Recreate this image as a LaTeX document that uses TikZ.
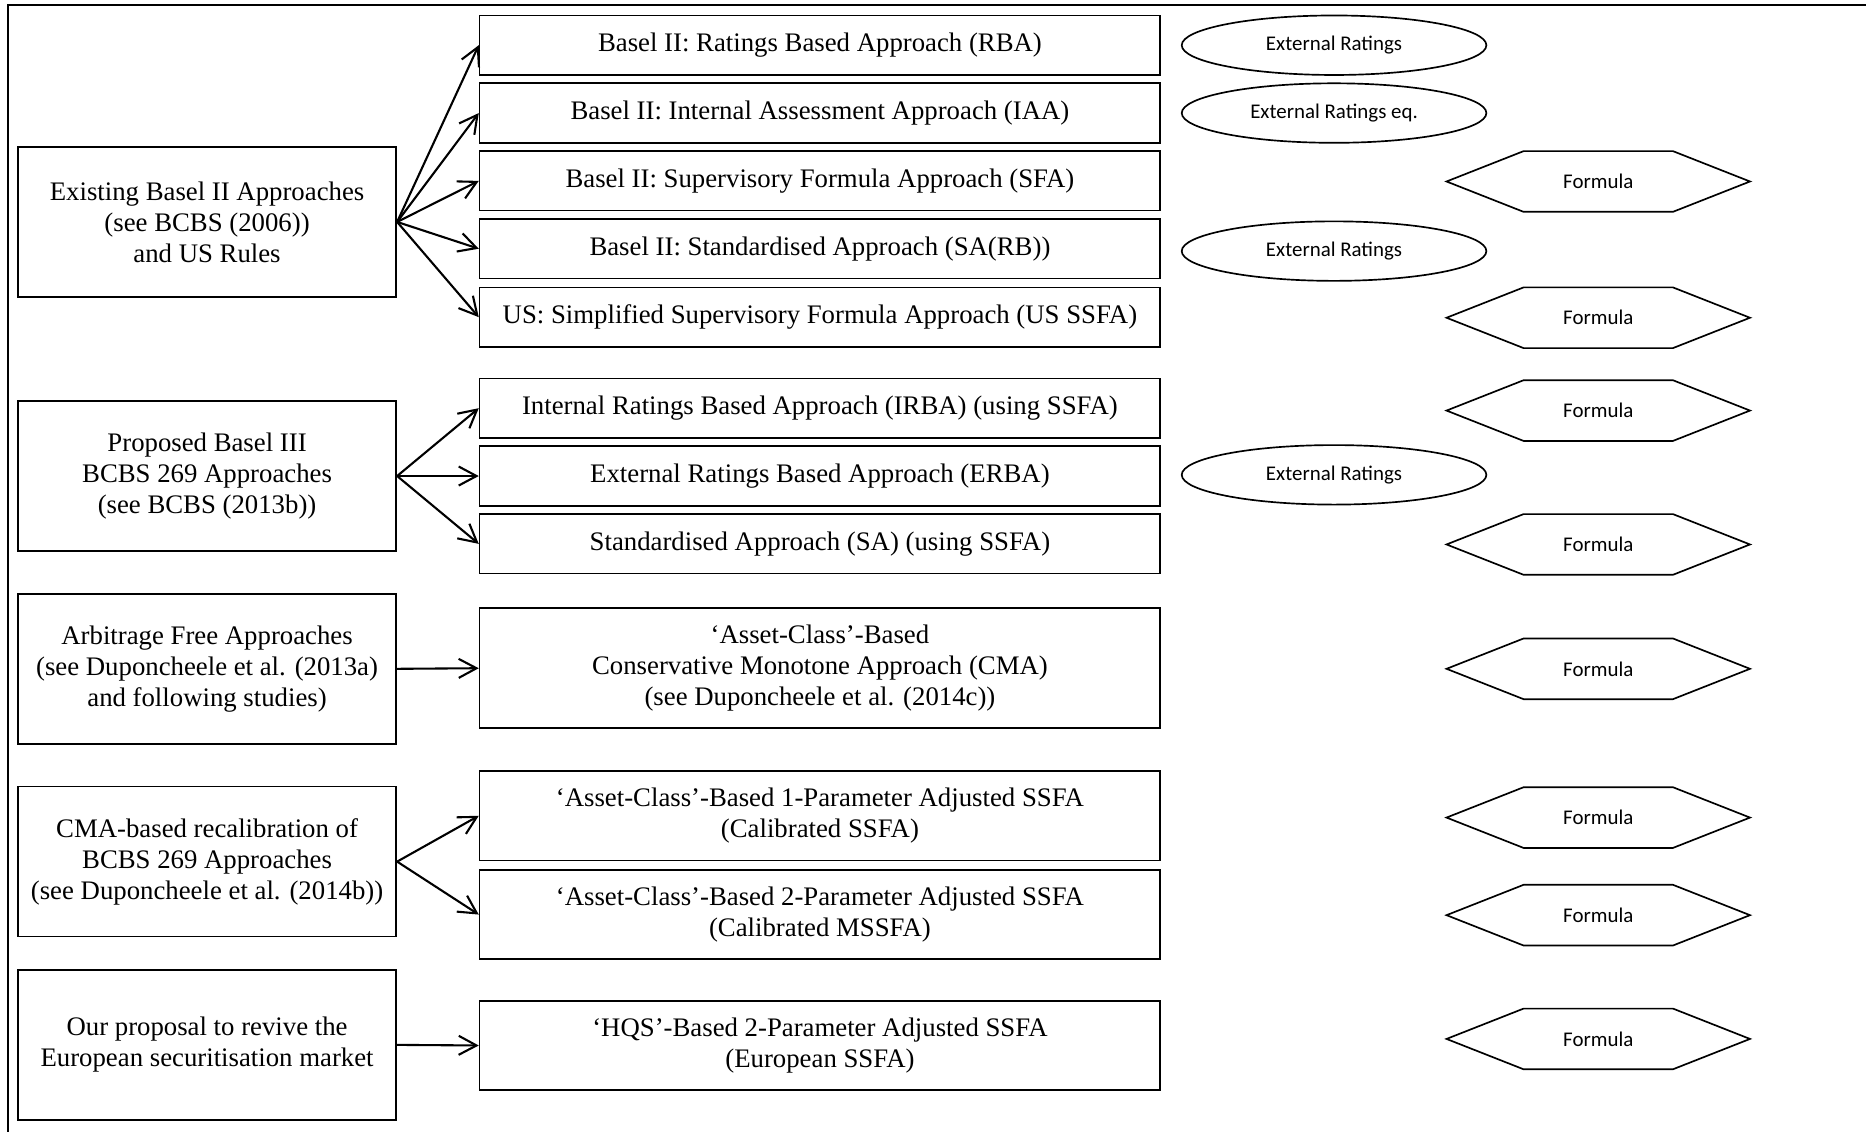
\documentclass[tikz,border=0pt]{standalone}
\usepackage{fontspec}
\setmainfont{Liberation Serif}
\newfontfamily\calib{Carlito}
\usetikzlibrary{arrows.meta,positioning,shapes.geometric,shapes.symbols}
\tikzset{
  >={Straight Barb[length=3mm,width=3.2mm]},
  grp/.style={draw,line width=0.8pt,minimum width=6.36cm,minimum height=2.52cm,
    align=center,font=\fontsize{12.8}{14.8}\selectfont},
  appr/.style={draw,line width=0.8pt,minimum width=11.44cm,minimum height=#1,
    align=center,font=\fontsize{12.8}{14.8}\selectfont},
  appr/.default=1cm,
  rating/.style={ellipse,draw,line width=0.8pt,minimum width=5.12cm,minimum height=1cm,
    inner sep=0pt,font=\calib\fontsize{10}{12}\selectfont},
  formula/.style={signal,signal to=east and west,signal pointer angle=43,draw,
    line width=0.8pt,minimum width=5.1cm,minimum height=1.02cm,inner sep=0pt,
    font=\calib\fontsize{10}{12}\selectfont},
  flow/.style={->,line width=1pt},
  frame/.style={line width=1.1pt},
}
\begin{document}
\begin{tikzpicture}
  \useasboundingbox (0,0) rectangle (31.36,-19.02);
  \draw[frame] (0.14,-19.02) |- (31.36,-0.08);
  % groups on the left
  \node[grp] (grp1) at (3.48,-3.73) {Existing Basel II Approaches\\(see BCBS (2006))\\and US Rules};
  \node[grp] (grp2) at (3.48,-8.0) {Proposed Basel III\\BCBS 269 Approaches\\(see BCBS (2013b))};
  \node[grp] (grp3) at (3.48,-11.24) {Arbitrage Free Approaches\\(see Duponcheele et al. (2013a)\\and following studies)};
  \node[grp] (grp4) at (3.48,-14.48) {CMA-based recalibration of\\BCBS 269 Approaches\\(see Duponcheele et al. (2014b))};
  \node[grp] (grp5) at (3.48,-17.56) {Our proposal to revive the\\European securitisation market};
  % approaches
  \node[appr] (ap1) at (13.78,-0.76) {Basel II: Ratings Based Approach (RBA)};
  \node[appr] (ap2) at (13.78,-1.9) {Basel II: Internal Assessment Approach (IAA)};
  \node[appr] (ap3) at (13.78,-3.04) {Basel II: Supervisory Formula Approach (SFA)};
  \node[appr] (ap4) at (13.78,-4.18) {Basel II: Standardised Approach (SA(RB))};
  \node[appr] (ap5) at (13.78,-5.33) {US: Simplified Supervisory Formula Approach (US SSFA)};
  \node[appr] (ap6) at (13.78,-6.86) {Internal Ratings Based Approach (IRBA) (using SSFA)};
  \node[appr] (ap7) at (13.78,-8.0) {External Ratings Based Approach (ERBA)};
  \node[appr] (ap8) at (13.78,-9.14) {Standardised Approach (SA) (using SSFA)};
  \node[appr=2.02cm] (ap9) at (13.78,-11.23) {‘Asset-Class’-Based\\Conservative Monotone Approach (CMA)\\(see Duponcheele et al. (2014c))};
  \node[appr=1.5cm] (ap10) at (13.78,-13.71) {‘Asset-Class’-Based 1-Parameter Adjusted SSFA\\(Calibrated SSFA)};
  \node[appr=1.5cm] (ap11) at (13.78,-15.37) {‘Asset-Class’-Based 2-Parameter Adjusted SSFA\\(Calibrated MSSFA)};
  \node[appr=1.5cm] (ap12) at (13.78,-17.57) {‘HQS’-Based 2-Parameter Adjusted SSFA\\(European SSFA)};
  % ratings
  \node[rating] (rt1) at (22.42,-0.76) {External Ratings};
  \node[rating] (rt2) at (22.42,-1.9) {External Ratings eq.};
  \node[rating] (rt3) at (22.42,-4.22) {External Ratings};
  \node[rating] (rt4) at (22.42,-7.98) {External Ratings};
  % formulas
  \foreach \y [count=\i] in {-3.05,-5.34,-6.9,-9.15,-11.24,-13.74,-15.38,-17.46}
    \node[formula] (fm\i) at (26.86,\y) {Formula};
  % connectors
  \foreach \j in {1,...,5} \draw[flow] (grp1.east) -- (ap\j.west);
  \foreach \j in {6,7,8} \draw[flow] (grp2.east) -- (ap\j.west);
  \draw[flow] (grp3.east) -- (ap9.west);
  \foreach \j in {10,11} \draw[flow] (grp4.east) -- (ap\j.west);
  \draw[flow] (grp5.east) -- (ap12.west);
\end{tikzpicture}
\end{document}
